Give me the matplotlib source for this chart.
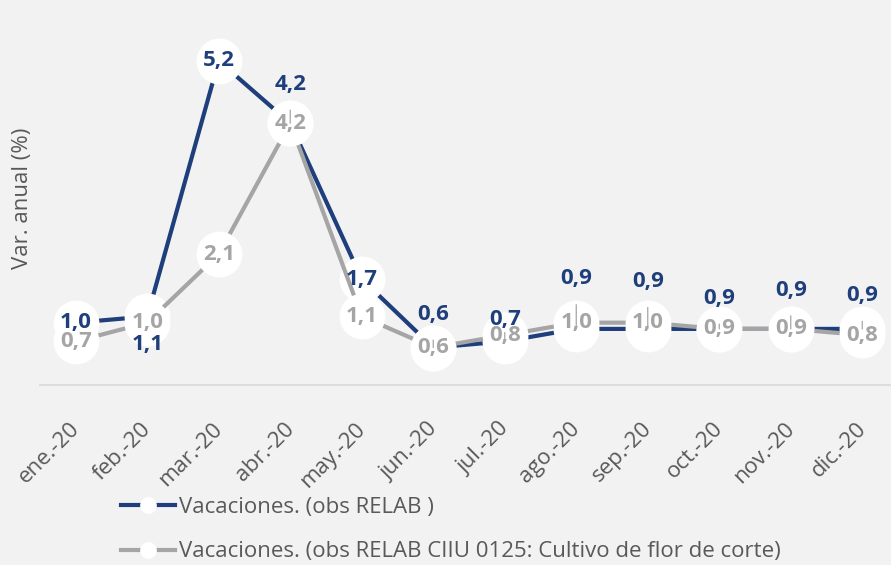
import matplotlib.pyplot as plt
import matplotlib.transforms as mtransforms
from matplotlib.lines import Line2D

months = ["ene.-20", "feb.-20", "mar.-20", "abr.-20", "may.-20", "jun.-20",
          "jul.-20", "ago.-20", "sep.-20", "oct.-20", "nov.-20", "dic.-20"]
relab = [1.0, 1.1, 5.2, 4.2, 1.7, 0.6, 0.7, 0.9, 0.9, 0.9, 0.9, 0.9]
flores = [0.7, 1.0, 2.1, 4.2, 1.1, 0.6, 0.8, 1.0, 1.0, 0.9, 0.9, 0.8]
label_relab = "Vacaciones. (obs RELAB )"
label_flores = "Vacaciones. (obs RELAB CIIU 0125: Cultivo de flor de corte)"

# label offsets (points) for the blue series; (0, 0) = centred on the point
relab_offsets = [(0, 0), (0, -20), (0, 0), (0, 28), (0, 0), (0, 24),
                 (0, 16), (0, 36), (0, 34), (0, 22), (0, 28), (0, 24)]

blue = "#1F3E7C"
gray = "#A5A5A5"
bg = "#F2F2F2"
txt = "#595959"

plt.rcParams['font.family'] = ['Open Sans', 'DejaVu Sans']

fig = plt.figure(figsize=(8.91, 5.65), dpi=100, facecolor=bg)
ax = fig.add_axes([40 / 891, 180 / 565, 858 / 891, 374 / 565])
ax.set_facecolor(bg)

x = list(range(len(months)))

# Draw the series (white circle markers behind the labels)
ax.plot(x, relab, color=blue, lw=3, marker='o', ms=32,
        mfc='white', mec='white', zorder=2, clip_on=False)
ax.plot(x, flores, color=gray, lw=3, marker='o', ms=32,
        mfc='white', mec='white', zorder=3, clip_on=False)

# Data labels
for i, v in enumerate(flores):
    ax.text(i, v, f"{v:.1f}".replace(".", ","), color=gray, fontsize=16,
            fontweight='bold', ha='center', va='center', zorder=5)

for i, v in enumerate(relab):
    dx, dy = relab_offsets[i]
    s = f"{v:.1f}".replace(".", ",")
    if dy > 0:
        ax.annotate(s, xy=(i, v), xytext=(dx, dy), textcoords='offset points',
                    color=blue, fontsize=16, fontweight='bold',
                    ha='center', va='center', zorder=6,
                    arrowprops=dict(arrowstyle='-', color=gray, lw=0.9,
                                    shrinkA=9, shrinkB=0))
    else:
        ax.annotate(s, xy=(i, v), xytext=(dx, dy), textcoords='offset points',
                    color=blue, fontsize=16, fontweight='bold',
                    ha='center', va='center', zorder=6)

ax.set_xlim(-0.5, len(months) - 0.5)
ax.set_ylim(0, 6)
ax.set_yticks([])
ax.set_xticks(x)
ax.set_xticklabels(months, rotation=45, ha='right', color=txt, fontsize=16)
ax.tick_params(axis='x', length=0, pad=24)
# move the rotated labels a bit to the right (after tick_params)
shift = mtransforms.ScaledTranslation(8 / 100, 0, fig.dpi_scale_trans)
for lab in ax.get_xticklabels():
    lab.set_transform(lab.get_transform() + shift)

for side in ['top', 'left', 'right']:
    ax.spines[side].set_visible(False)
ax.spines['bottom'].set_color("#D9D9D9")
ax.spines['bottom'].set_linewidth(1.2)

ax.set_ylabel("Var. anual (%)", color=txt, fontsize=16)
ax.yaxis.set_label_coords(-0.008, 0.5)

# Legend
handles = [
    Line2D([0], [0], color=blue, lw=3, marker='o', ms=11, mfc='white', mec='white'),
    Line2D([0], [0], color=gray, lw=3, marker='o', ms=11, mfc='white', mec='white'),
]
fig.legend(handles, [label_relab, label_flores], loc='upper left',
           bbox_to_anchor=(121 / 891, 1 - 497 / 565), frameon=False,
           fontsize=16, labelcolor=txt, handlelength=2.45, handletextpad=0.15,
           labelspacing=1.05, borderpad=0, borderaxespad=0)

fig.savefig("out.png", dpi=100, facecolor=bg)
